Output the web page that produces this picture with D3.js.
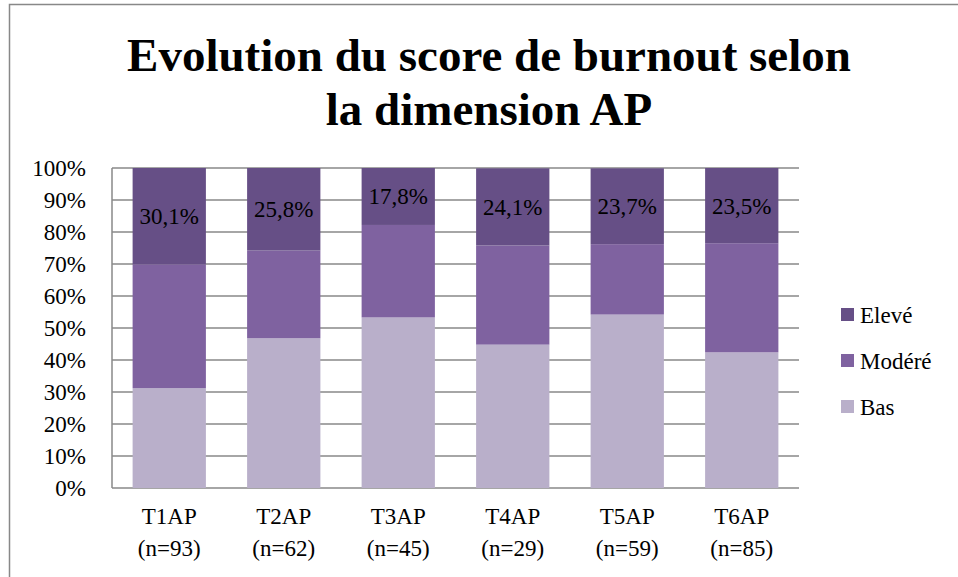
<!DOCTYPE html>
<html>
<head>
<meta charset="utf-8">
<script src="https://cdn.jsdelivr.net/npm/d3@7"></script>
<style>
  body { margin: 0; background: #fff; }
  svg text { font-family: "Liberation Serif", "Times New Roman", Times, Tinos, "Noto Serif", "DejaVu Serif", FreeSerif, Georgia, serif; }
</style>
</head>
<body>
<svg width="958" height="577"></svg>
<script>
// data: share of each burnout level per time point (%)
const categories = ["T1AP", "T2AP", "T3AP", "T4AP", "T5AP", "T6AP"];
const sampleSizes = ["(n=93)", "(n=62)", "(n=45)", "(n=29)", "(n=59)", "(n=85)"];
const bas = [31.2, 46.8, 53.3, 44.8, 54.2, 42.4];
const modere = [38.7, 27.4, 28.9, 31.0, 22.0, 34.1];
const eleve = [30.1, 25.8, 17.8, 24.1, 23.7, 23.5];
const eleveLabels = ["30,1%", "25,8%", "17,8%", "24,1%", "23,7%", "23,5%"];
const yTicks = [0, 10, 20, 30, 40, 50, 60, 70, 80, 90, 100];

const seriesNames = ["Bas", "Modéré", "Elevé"];
const colors = {"Bas": "#b9afca", "Modéré": "#7f62a0", "Elevé": "#664f86"};

const svg = d3.select("svg"),
    width = +svg.attr("width"),
    height = +svg.attr("height");

// outer chart border (cropped on right/bottom)
svg.append("path")
    .attr("d", `M9.5,${height} V4.5 H${width}`)
    .attr("fill", "none")
    .attr("stroke", "#888")
    .attr("stroke-width", 1.5);

// title
const title = svg.append("text")
    .attr("text-anchor", "middle")
    .attr("font-weight", "bold")
    .attr("font-size", 47);
title.append("tspan").attr("x", 489).attr("y", 71).text("Evolution du score de burnout selon");
title.append("tspan").attr("x", 489).attr("y", 125).text("la dimension AP");

const plot = {left: 112, right: 799, top: 168, bottom: 488};

const x = d3.scaleBand()
    .domain(categories)
    .range([plot.left, plot.right])
    .paddingInner(0.36)
    .paddingOuter(0.18);

const y = d3.scaleLinear()
    .domain([0, 100])
    .range([plot.bottom, plot.top]);

// gridlines
svg.append("g")
    .selectAll("line")
    .data(yTicks)
    .join("line")
    .attr("x1", plot.left)
    .attr("x2", plot.right)
    .attr("y1", d => y(d))
    .attr("y2", d => y(d))
    .attr("stroke", "#888")
    .attr("stroke-width", 1.5);

// y axis line
svg.append("line")
    .attr("x1", plot.left).attr("x2", plot.left)
    .attr("y1", plot.top).attr("y2", plot.bottom)
    .attr("stroke", "#888")
    .attr("stroke-width", 1.5);

// y tick labels
svg.append("g")
    .selectAll("text")
    .data(yTicks)
    .join("text")
    .attr("x", 86)
    .attr("y", d => y(d) + 8)
    .attr("text-anchor", "end")
    .attr("font-size", 23)
    .text(d => d + "%");

// stacked bars
const table = categories.map((c, i) => ({cat: c, "Bas": bas[i], "Modéré": modere[i], "Elevé": eleve[i]}));
const stacked = d3.stack().keys(seriesNames)(table);

svg.append("g")
    .selectAll("g")
    .data(stacked)
    .join("g")
    .attr("fill", d => colors[d.key])
    .selectAll("rect")
    .data(d => d)
    .join("rect")
    .attr("x", d => x(d.data.cat))
    .attr("width", x.bandwidth())
    .attr("y", d => y(d[1]))
    .attr("height", d => y(d[0]) - y(d[1]));

// labels on the Elevé segment
const eleveLayer = stacked[2];
svg.append("g")
    .selectAll("text")
    .data(eleveLayer)
    .join("text")
    .attr("x", d => x(d.data.cat) + x.bandwidth() / 2)
    .attr("y", d => (y(d[0]) + y(d[1])) / 2 + 8)
    .attr("text-anchor", "middle")
    .attr("font-size", 23)
    .text((d, i) => eleveLabels[i]);

// x labels
const xl = svg.append("g")
    .selectAll("text")
    .data(categories)
    .join("text")
    .attr("text-anchor", "middle")
    .attr("font-size", 23);
xl.append("tspan")
    .attr("x", d => x(d) + x.bandwidth() / 2)
    .attr("y", 524)
    .text(d => d);
xl.append("tspan")
    .attr("x", d => x(d) + x.bandwidth() / 2)
    .attr("y", 556)
    .text((d, i) => sampleSizes[i]);

// legend
const legendItems = ["Elevé", "Modéré", "Bas"];
const legend = svg.append("g")
    .selectAll("g")
    .data(legendItems)
    .join("g")
    .attr("transform", (d, i) => `translate(841,${315 + i * 46})`);
legend.append("rect")
    .attr("x", 0).attr("y", -7)
    .attr("width", 13).attr("height", 13)
    .attr("fill", d => colors[d]);
legend.append("text")
    .attr("x", 19)
    .attr("y", 8)
    .attr("font-size", 23)
    .text(d => d);
</script>
</body>
</html>
